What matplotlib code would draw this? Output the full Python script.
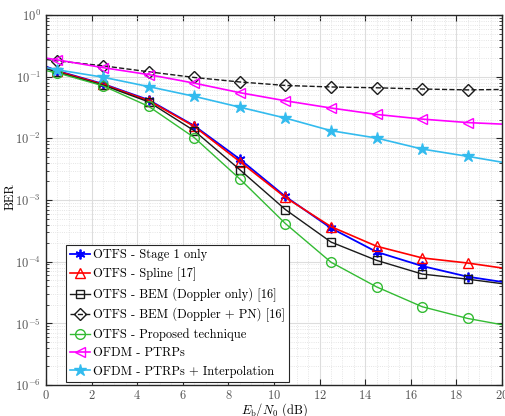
import matplotlib
matplotlib.use('Agg')
from matplotlib import pyplot as plt
from matplotlib.ticker import MultipleLocator, LogLocator, NullFormatter

# SNR points (markers at 0.5, 2.5, ..., 18.5; line runs 0 to 20)
snr = [0, 0.5, 2.5, 4.5, 6.5, 8.5, 10.5, 12.5, 14.5, 16.5, 18.5, 20]

ber_stage1 = [0.146, 0.124, 0.0764, 0.042, 0.016, 0.0046, 1.14e-3, 3.5e-4, 1.44e-4, 8.5e-5, 5.7e-5, 4.7e-5]
ber_spline = [0.142, 0.122, 0.075, 0.041, 0.0156, 0.0042, 1.1e-3, 3.7e-4, 1.78e-4, 1.15e-4, 9.5e-5, 7.9e-5]
ber_bem_dop = [0.135, 0.118, 0.073, 0.039, 0.0133, 0.0031, 7.0e-4, 2.08e-4, 1.05e-4, 6.3e-5, 5.2e-5, 4.4e-5]
ber_bem_pn = [0.19, 0.18, 0.15, 0.12, 0.097, 0.082, 0.072, 0.068, 0.066, 0.063, 0.061, 0.062]
ber_proposed = [0.125, 0.115, 0.071, 0.033, 0.0103, 0.0022, 4.15e-4, 9.8e-5, 3.9e-5, 1.86e-5, 1.2e-5, 9.5e-6]
ber_ofdm = [0.2, 0.187, 0.14, 0.108, 0.0785, 0.055, 0.0406, 0.031, 0.0244, 0.0205, 0.018, 0.017]
ber_ofdm_interp = [0.14, 0.129, 0.098, 0.069, 0.048, 0.032, 0.0213, 0.0133, 0.0101, 0.0067, 0.0051, 0.0041]

labels = ['OTFS - Stage 1 only', 'OTFS - Spline [17]', 'OTFS - BEM (Doppler only) [16]',
          'OTFS - BEM (Doppler + PN) [16]', 'OTFS - Proposed technique',
          'OFDM - PTRPs', 'OFDM - PTRPs + Interpolation']

plt.rcParams['font.family'] = ['cmr10', 'DejaVu Serif']
plt.rcParams['mathtext.fontset'] = 'cm'
plt.rcParams['axes.formatter.use_mathtext'] = True

fig = plt.figure(figsize=(5.06, 4.16), dpi=100)
ax = fig.add_axes([0.0909, 0.0745, 0.9011, 0.8895])

mk = slice(1, -1)
ax.semilogy(snr, ber_stage1, color='#0000ff', marker=(6, 2, 0), ms=7, mew=1.3, lw=1.3, markevery=mk, label=labels[0])
ax.semilogy(snr, ber_spline, color='#ff0000', marker='^', ms=7, mfc='none', lw=1.2, markevery=mk, label=labels[1])
ax.semilogy(snr, ber_bem_dop, color='#1a1a1a', marker='s', ms=5.5, mfc='none', lw=1.0, markevery=mk, label=labels[2])
ax.semilogy(snr, ber_bem_pn, color='#1a1a1a', marker='D', ms=6, mfc='none', lw=1.0, ls='--', markevery=mk, label=labels[3])
ax.semilogy(snr, ber_proposed, color='#33bb33', marker='o', ms=7, mfc='none', lw=1.0, markevery=mk, label=labels[4])
ax.semilogy(snr, ber_ofdm, color='#ff00ff', marker='<', ms=7, mfc='none', lw=1.2, markevery=mk, label=labels[5])
ax.semilogy(snr, ber_ofdm_interp, color='#33bbee', marker='*', ms=9, lw=1.2, markevery=mk, label=labels[6])

ax.set_xlim(0, 20)
ax.set_ylim(1e-6, 1)
ax.xaxis.set_major_locator(MultipleLocator(2))
ax.xaxis.set_minor_locator(MultipleLocator(0.5))
ax.yaxis.set_major_locator(LogLocator(base=10, numticks=10))
ax.yaxis.set_minor_locator(LogLocator(base=10, subs=range(2, 10), numticks=20))
ax.yaxis.set_minor_formatter(NullFormatter())

ax.grid(which='major', color='#dddddd', lw=0.8)
ax.grid(which='minor', color='#dddddd', lw=0.6, ls=':')
ax.set_axisbelow(True)

ax.tick_params(which='both', direction='in', top=True, right=True, labelsize=9, colors='#262626', labelcolor='#555555')
ax.tick_params(which='major', length=4)
ax.tick_params(axis='x', which='major', pad=3)
ax.tick_params(axis='y', which='minor', length=2)
ax.tick_params(axis='x', which='minor', length=0)
for s in ax.spines.values():
    s.set_color('#262626')
    s.set_linewidth(1.0)

ax.set_xlabel(r'$E_\mathrm{b}/N_0$ (dB)', fontsize=9)
ax.xaxis.set_label_coords(0.5, -0.045)
ax.set_ylabel('BER', fontsize=9)
ax.yaxis.set_label_coords(-0.064, 0.51)

leg = ax.legend(loc='lower left', bbox_to_anchor=(0.044, 0.008), fontsize=9, fancybox=False,
                framealpha=1, edgecolor='#262626', handlelength=1.6, handletextpad=0.2,
                labelspacing=0.5, borderpad=0.35, borderaxespad=0)
leg.get_frame().set_linewidth(0.8)

fig.savefig('out.png', dpi=100)
